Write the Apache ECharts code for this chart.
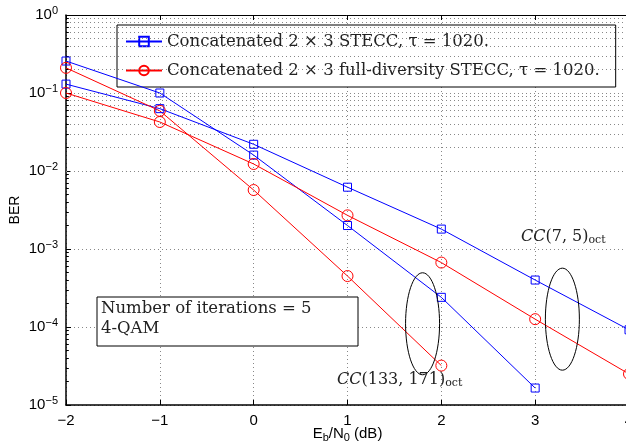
<!DOCTYPE html>
<html>
<head>
<meta charset="utf-8">
<script src="https://cdn.jsdelivr.net/npm/echarts@6/dist/echarts.min.js"></script>
<style>
  html, body { margin: 0; padding: 0; background: #fff; }
  #chart { width: 626px; height: 444px; }
</style>
</head>
<body>
<div id="chart"></div>
<script>
// Eb/N0 points (dB)
var snr = [-2, -1, 0, 1, 2, 3, 4];
// CC(7,5)oct
var stecc75 = [0.13, 0.063, 0.022, 0.0062, 0.0018, 0.0004, 0.000092];
var fd75 = [0.1, 0.0425, 0.0123, 0.0027, 0.00067, 0.000126, 0.000025];
// CC(133,171)oct
var stecc133 = [0.257, 0.1, 0.016, 0.002, 0.00024, 0.0000165];
var fd133 = [0.21, 0.059, 0.0057, 0.00045, 0.000032];
var decades = [-5, -4, -3, -2, -1, 0];

var nameA = 'Concatenated 2 × 3 STECC, τ = 1020.';
var nameB = 'Concatenated 2 × 3 full-diversity STECC, τ = 1020.';

function pairs(ys) {
    return ys.map(function (y, i) { return [snr[i], y]; });
}

// minor grid values 2..9 per decade
var minorVals = [];
decades.slice(0, -1).forEach(function (d) {
    for (var k = 2; k <= 9; k++) minorVals.push(k * Math.pow(10, d));
});

var sans = 'Liberation Sans';
var serif = 'DejaVu Serif';
var ink = '#222';

var blueSeries = {
    type: 'line', name: nameA, color: '#0000ff',
    symbol: 'rect', symbolSize: 8,
    itemStyle: { color: 'transparent', borderColor: '#0000ff', borderWidth: 1 },
    lineStyle: { width: 1, color: '#0000ff' },
    z: 5
};
var redSeries = {
    type: 'line', name: nameB, color: '#ff0000',
    symbol: 'circle', symbolSize: 11,
    itemStyle: { color: 'transparent', borderColor: '#ff0000', borderWidth: 1 },
    lineStyle: { width: 1, color: '#ff0000' },
    z: 5
};

var chart = echarts.init(document.getElementById('chart'));

var option = {
    animation: false,
    backgroundColor: '#fff',
    grid: { left: 66, top: 15, width: 563, height: 390, outerBoundsMode: 'none', containLabel: false },
    legend: {
        left: 117, top: 25,
        orient: 'vertical',
        backgroundColor: '#fff',
        borderColor: '#000', borderWidth: 1,
        padding: [8, 16, 8, 8],
        itemGap: 12,
        itemWidth: 36, itemHeight: 12,
        textStyle: { fontFamily: serif, fontSize: 16.5, color: ink },
        data: [nameA, nameB]
    },
    xAxis: [{
        type: 'value', min: -2, max: 4, interval: 1,
        axisLine: { onZero: false, lineStyle: { color: '#000', width: 1.5 } },
        axisTick: { inside: true, length: 5, lineStyle: { color: '#000' } },
        axisLabel: { fontFamily: sans, fontSize: 15, color: '#000', margin: 8,
            formatter: function (v) { return v < 0 ? '\u2212' + (-v) : '' + v; } },
        splitLine: { show: true, lineStyle: { type: [1, 3], color: '#888' } },
        name: '{n|E}{s|b}{n|/N}{s|0}{n| (dB)}',
        nameLocation: 'middle', nameGap: 19, nameMoveOverlap: false,
        nameTextStyle: { rich: {
            n: { fontFamily: sans, fontSize: 15, color: '#000' },
            s: { fontFamily: sans, fontSize: 11, color: '#000', padding: [8, 0, 0, 0] }
        } }
    }, {
        type: 'value', min: -2, max: 4, interval: 1, position: 'top',
        axisLine: { onZero: false, lineStyle: { color: '#000', width: 1 } },
        axisTick: { inside: true, length: 5, lineStyle: { color: '#000' } },
        axisLabel: { show: false },
        splitLine: { show: false }
    }],
    yAxis: {
        type: 'log', logBase: 10, min: 1e-5, max: 1,
        axisLine: { show: true, onZero: false, lineStyle: { color: '#000', width: 1.5 } },
        axisTick: { inside: true, length: 5, lineStyle: { color: '#000' } },
        axisLabel: {
            margin: 8,
            formatter: function (v) {
                var e = Math.round(Math.log10(v));
                return '{b|10}{s|' + (e < 0 ? '\u2212' + (-e) : e) + '}';
            },
            rich: {
                b: { fontFamily: sans, fontSize: 15, color: '#000' },
                s: { fontFamily: sans, fontSize: 11, color: '#000', padding: [0, 0, 9, 0] }
            }
        },
        splitLine: { show: true, lineStyle: { type: [1, 3], color: '#888' } },
        name: 'BER', nameLocation: 'middle', nameGap: 44, nameMoveOverlap: false,
        nameTextStyle: { fontFamily: sans, fontSize: 14, color: '#000' }
    },
    series: [
        Object.assign({}, blueSeries, { data: pairs(stecc75) }),
        Object.assign({}, blueSeries, { data: pairs(stecc133) }),
        Object.assign({}, redSeries, { data: pairs(fd75) }),
        Object.assign({}, redSeries, { data: pairs(fd133) }),
        {
            type: 'line', name: 'grid', data: [], silent: true,
            markLine: {
                silent: true, symbol: 'none', animation: false,
                label: { show: false },
                lineStyle: { type: [1, 3], color: '#888', width: 1 },
                data: minorVals.map(function (v) { return { yAxis: v }; })
            }
        },
        {
            type: 'line', name: 'minorTicks', data: [], silent: true,
            markLine: {
                silent: true, symbol: 'none', animation: false,
                label: { show: false },
                lineStyle: { type: 'solid', color: '#000', width: 1 },
                data: minorVals.map(function (v) {
                    return [{ coord: [-2, v] }, { coord: [-1.97, v] }];
                })
            }
        }
    ]
};

chart.setOption(option);

function px(x, y) { return chart.convertToPixel({ gridIndex: 0 }, [x, y]); }
var e1 = px(1.8, 1.1e-4);
var e2 = px(3.29, 1.26e-4);

var annoRich = {
    i: { fontFamily: serif, fontStyle: 'italic', fontSize: 16, fill: ink },
    n: { fontFamily: serif, fontSize: 16, fill: ink },
    s: { fontFamily: serif, fontSize: 11, fill: ink, padding: [6, 0, 0, 0] }
};

chart.setOption({
    graphic: [
        { type: 'ellipse', shape: { cx: e1[0], cy: e1[1], rx: 17, ry: 51 },
          style: { fill: 'none', stroke: '#000', lineWidth: 1 }, z: 10 },
        { type: 'ellipse', shape: { cx: e2[0], cy: e2[1], rx: 17, ry: 51 },
          style: { fill: 'none', stroke: '#000', lineWidth: 1 }, z: 10 },
        { type: 'rect', shape: { x: 97, y: 297, width: 261, height: 49 },
          style: { fill: '#fff', stroke: '#000', lineWidth: 1 }, z: 10 },
        { type: 'text', left: 101, top: 299, z: 11,
          style: { text: 'Number of iterations = 5\n4-QAM', fontFamily: serif, fontSize: 16.5,
                   lineHeight: 20, fill: ink } },
        { type: 'text', left: 521, top: 229, z: 11,
          style: { text: '{i|CC}{n|(7, 5)}{s|oct}', rich: annoRich } },
        { type: 'text', left: 337, top: 372, z: 11,
          style: { text: '{i|CC}{n|(133, 171)}{s|oct}', rich: annoRich } }
    ]
});
</script>
</body>
</html>
